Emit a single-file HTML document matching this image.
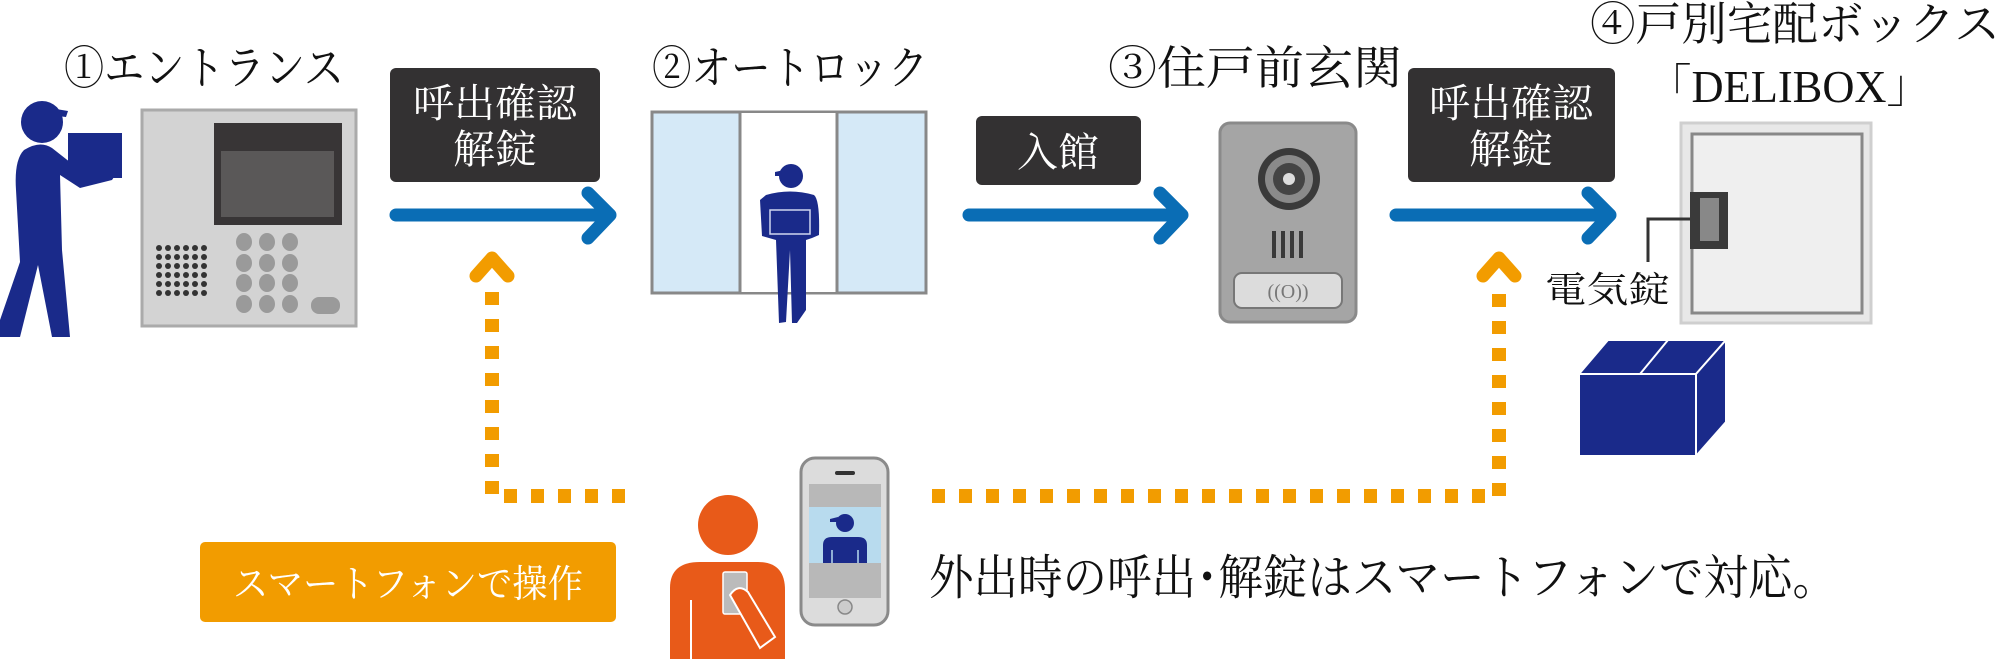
<!DOCTYPE html>
<html><head><meta charset="utf-8"><style>
html,body{margin:0;padding:0;background:#fff;width:2000px;height:659px;overflow:hidden}
svg{display:block}
text{font-family:"Liberation Serif","Noto Serif CJK SC",serif}
</style></head><body>
<svg width="2000" height="659" viewBox="0 0 2000 659" xmlns="http://www.w3.org/2000/svg">
<!-- Titles -->
<text x="64" y="84" font-size="46" textLength="280" lengthAdjust="spacingAndGlyphs" fill="#111">①エントランス</text>
<text x="652" y="84" font-size="46" textLength="276" lengthAdjust="spacingAndGlyphs" fill="#111">②オートロック</text>
<text x="1108" y="84" font-size="46" textLength="294" lengthAdjust="spacingAndGlyphs" fill="#111">③住戸前玄関</text>
<text x="1590" y="40" font-size="46" textLength="410" lengthAdjust="spacingAndGlyphs" fill="#111">④戸別宅配ボックス</text>
<text x="1647" y="102" font-size="46" textLength="284" lengthAdjust="spacingAndGlyphs" fill="#111">「DELIBOX」</text>

<!-- Delivery person 1 -->
<g fill="#1a2a8a">
<circle cx="42" cy="122" r="21"/>
<path d="M38 106 L68 111 L66 117 L40 114Z"/>
<rect x="68" y="133" width="54" height="45"/>
<path d="M24 150 Q40 140 52 148 L80 170 L110 168 Q118 172 112 180 L80 188 L60 175 L62 250 L70 337 L52 337 L38 265 L20 337 L0 337 L0 320 L20 262 L16 190 Q14 160 24 150Z"/>
</g>

<!-- Entrance panel -->
<rect x="142" y="110" width="214" height="216" fill="#d3d3d3" stroke="#aaa" stroke-width="3"/>
<rect x="214" y="123" width="128" height="102" fill="#383536"/>
<rect x="221" y="151" width="113" height="66" fill="#5a5858"/>
<g fill="#333">
<g id="dr"><circle cx="159" cy="248" r="3"/><circle cx="168" cy="248" r="3"/><circle cx="177" cy="248" r="3"/><circle cx="186" cy="248" r="3"/><circle cx="195" cy="248" r="3"/><circle cx="204" cy="248" r="3"/></g>
<use href="#dr" y="9"/><use href="#dr" y="18"/><use href="#dr" y="27"/><use href="#dr" y="36"/><use href="#dr" y="45"/>
</g>
<g fill="#9a9a9a">
<g id="kr"><ellipse cx="244" cy="242" rx="8" ry="9"/><ellipse cx="267" cy="242" rx="8" ry="9"/><ellipse cx="290" cy="242" rx="8" ry="9"/></g>
<use href="#kr" y="21"/><use href="#kr" y="41"/><use href="#kr" y="62"/>
<rect x="311" y="297" width="29" height="17" rx="8"/>
</g>

<!-- Dark boxes -->
<rect x="390" y="68" width="210" height="114" rx="6" fill="#333132"/>
<text x="495" y="117" font-size="40" fill="#fff" text-anchor="middle" textLength="164" lengthAdjust="spacingAndGlyphs">呼出確認</text>
<text x="495" y="163" font-size="40" fill="#fff" text-anchor="middle" textLength="84" lengthAdjust="spacingAndGlyphs">解錠</text>
<rect x="976" y="116" width="165" height="69" rx="6" fill="#333132"/>
<text x="1058" y="166" font-size="40" fill="#fff" text-anchor="middle" textLength="82" lengthAdjust="spacingAndGlyphs">入館</text>
<rect x="1408" y="68" width="207" height="114" rx="6" fill="#333132"/>
<text x="1511" y="117" font-size="40" fill="#fff" text-anchor="middle" textLength="164" lengthAdjust="spacingAndGlyphs">呼出確認</text>
<text x="1511" y="163" font-size="40" fill="#fff" text-anchor="middle" textLength="84" lengthAdjust="spacingAndGlyphs">解錠</text>

<!-- Blue arrows -->
<g stroke="#0a6db5" stroke-width="13" stroke-linecap="round" stroke-linejoin="round" fill="none">
<path d="M396 215 H608 M588 193 L610 215 L588 238"/>
<path d="M969 215 H1180 M1160 193 L1182 215 L1160 238"/>
<path d="M1396 215 H1608 M1588 193 L1610 215 L1588 238"/>
</g>

<!-- Auto-lock door -->
<rect x="652" y="112" width="274" height="181" fill="#d5e9f7" stroke="#888" stroke-width="3"/>
<rect x="740" y="113" width="97" height="179" fill="#fff"/>
<line x1="740" y1="112" x2="740" y2="293" stroke="#888" stroke-width="3"/>
<line x1="837" y1="112" x2="837" y2="293" stroke="#888" stroke-width="3"/>
<g fill="#1a2a8a">
<circle cx="791" cy="176" r="12"/>
<path d="M775 172 L784 170 L784 176 L775 176Z"/>
<path d="M766 195 Q790 188 814 195 Q820 200 819 235 L812 238 L806 240 L806 310 L797 323 L792 323 L790 250 L786 322 L779 323 L776 240 L762 236 L760 200Z"/>
</g>
<rect x="770" y="210" width="40" height="24" fill="none" stroke="#cfd6ef" stroke-width="1.5"/>

<!-- Door station -->
<rect x="1220" y="123" width="136" height="199" rx="10" fill="#a5a5a5" stroke="#8a8a8a" stroke-width="3"/>
<circle cx="1289" cy="179" r="31" fill="#3a3a3a"/>
<circle cx="1289" cy="179" r="24" fill="#8a8a8a"/>
<circle cx="1289" cy="179" r="16" fill="#444"/>
<circle cx="1289" cy="179" r="6" fill="#ddd"/>
<g stroke="#3a3a3a" stroke-width="4"><line x1="1274" y1="231" x2="1274" y2="258"/><line x1="1283" y1="231" x2="1283" y2="258"/><line x1="1292" y1="231" x2="1292" y2="258"/><line x1="1301" y1="231" x2="1301" y2="258"/></g>
<rect x="1234" y="273" width="108" height="35" rx="8" fill="#dcdcdc" stroke="#777" stroke-width="2"/>
<text x="1288" y="298" font-size="20" fill="#777" text-anchor="middle">((O))</text>

<!-- Delibox -->
<rect x="1681" y="123" width="190" height="200" fill="#e8e8e8" stroke="#cfcfcf" stroke-width="3"/>
<rect x="1692" y="134" width="170" height="179" fill="#efefef" stroke="#888" stroke-width="3"/>
<rect x="1690" y="192" width="38" height="57" fill="#3a3a3a"/>
<rect x="1700" y="198" width="19" height="43" fill="#888"/>
<path d="M1690 219 H1648 V262" stroke="#333" stroke-width="3" fill="none"/>
<text x="1545" y="302" font-size="36" textLength="125" lengthAdjust="spacingAndGlyphs" fill="#111">電気錠</text>
<!-- Cube -->
<g stroke="#fff" stroke-width="2" fill="#1a2a8a">
<path d="M1579 374 L1608 340 L1726 340 L1696 374Z"/>
<path d="M1696 374 L1726 340 L1726 422 L1696 456Z"/>
<rect x="1579" y="374" width="117" height="82"/>
<line x1="1640" y1="374" x2="1668" y2="340"/>
</g>

<!-- Orange dotted lines -->
<g fill="none" stroke="#f29c00" stroke-width="13" stroke-linecap="round" stroke-linejoin="round">
<path d="M476 276 L492 258 L508 276"/>
<path d="M1483 276 L1499 258 L1515 276"/>
</g>
<g stroke="#f29c00" stroke-width="14" fill="none" stroke-dasharray="13 14">
<path d="M492 292 V496 H634"/>
<path d="M932 496 H1499 V292"/>
</g>

<!-- Orange button -->
<rect x="200" y="542" width="416" height="80" rx="5" fill="#f29c00"/>
<text x="408" y="597" font-size="38" fill="#fff" text-anchor="middle" textLength="350" lengthAdjust="spacingAndGlyphs">スマートフォンで操作</text>

<!-- Orange person -->
<g fill="#e85a19">
<circle cx="728" cy="525" r="30"/>
<path d="M670 659 V588 Q670 562 700 562 H758 Q785 562 785 590 V659Z"/>
</g>
<line x1="691" y1="600" x2="691" y2="659" stroke="#fff" stroke-width="2"/>
<rect x="723" y="572" width="24" height="42" rx="2" fill="#bbb" stroke="#fff" stroke-width="1.5"/>
<path d="M730 595 Q738 583 748 592 L775 637 L760 648Z" fill="#e85a19" stroke="#fff" stroke-width="2"/>

<!-- Phone -->
<rect x="801" y="458" width="87" height="167" rx="14" fill="#dcdcdc" stroke="#8a8a8a" stroke-width="3"/>
<rect x="809" y="484" width="72" height="114" fill="#b8b8b8"/>
<rect x="809" y="507" width="72" height="56" fill="#b8dbee"/>
<rect x="835" y="471" width="20" height="4" rx="2" fill="#333"/>
<circle cx="845" cy="607" r="7" fill="#ccc" stroke="#888" stroke-width="1.5"/>
<g fill="#1a2a8a">
<circle cx="845" cy="523" r="9"/>
<path d="M830 519 L838 517 L838 522 L830 522Z"/>
<path d="M823 563 V545 Q823 537 832 537 H858 Q867 537 867 545 V563Z"/>
</g>
<line x1="832" y1="550" x2="832" y2="563" stroke="#b8dbee" stroke-width="1.5"/>
<line x1="858" y1="550" x2="858" y2="563" stroke="#b8dbee" stroke-width="1.5"/>

<!-- Caption -->
<text x="929" y="594" font-size="48" textLength="908" lengthAdjust="spacingAndGlyphs" fill="#111">外出時の呼出･解錠はスマートフォンで対応。</text>
</svg>
</body></html>
